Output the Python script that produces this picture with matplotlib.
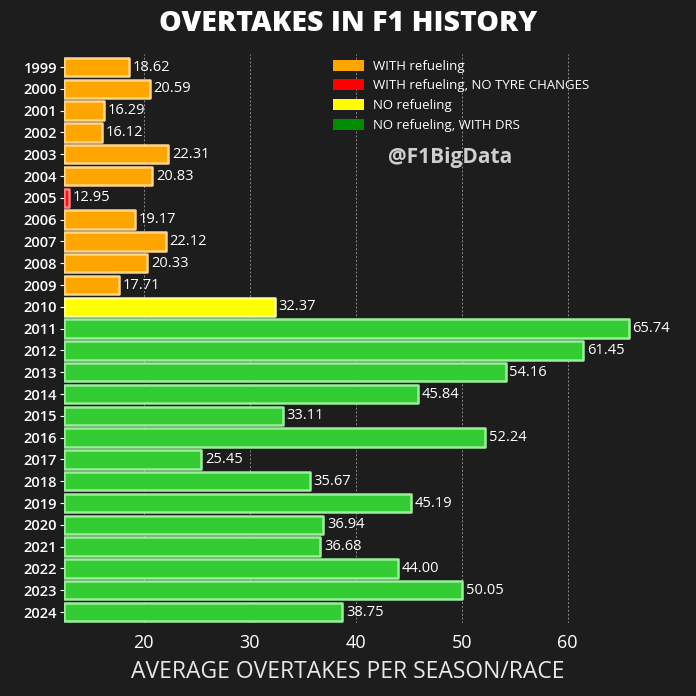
import matplotlib
matplotlib.use("Agg")
import matplotlib.pyplot as plt
from matplotlib.patches import Patch

# data
years = [str(y) for y in range(1999, 2025)]
overtakes = [18.62, 20.59, 16.29, 16.12, 22.31, 20.83, 12.95, 19.17, 22.12, 20.33,
             17.71, 32.37, 65.74, 61.45, 54.16, 45.84, 33.11, 52.24, 25.45, 35.67,
             45.19, 36.94, 36.68, 44.00, 50.05, 38.75]
# era of each season: 0 refuel, 1 refuel no tyre change, 2 no refuel, 3 DRS
era = [0, 0, 0, 0, 0, 0, 1, 0, 0, 0, 0, 2] + [3] * 14
era_labels = ["WITH refueling", "WITH refueling, NO TYRE CHANGES",
              "NO refueling", "NO refueling, WITH DRS"]
era_fill = ["#FFA500", "#FF1010", "#FFFF00", "#33CC33"]
era_edge = ["#FFD58A", "#FF8080", "#FFFF99", "#9BEF9B"]
legend_fill = ["#FFA500", "#FF0000", "#FFFF00", "#008C00"]

bg = "#1d1d1d"
plt.rcParams['font.family'] = ['Open Sans', 'DejaVu Sans']

fig = plt.figure(figsize=(6.96, 6.96), dpi=100, facecolor=bg)
ax = fig.add_axes([0.092, 0.105, 0.908, 0.8175], facecolor=bg)

x0 = 12.5
pos = list(range(len(years)))
for i, v in enumerate(overtakes):
    ax.barh(i, v - x0, left=x0, height=0.84, color=era_fill[era[i]],
            edgecolor=era_edge[era[i]], linewidth=1.8, joinstyle='round', zorder=3)
    ax.text(v + 0.35, i, f"{v:.2f}", color="white", fontsize=10.5,
            va="center", ha="left", zorder=4)

ax.set_ylim(len(years) - 0.5, -0.6)
ax.set_xlim(x0, 72.1)
ax.set_yticks(pos)
ax.set_yticklabels(years, fontsize=10.5, fontweight="semibold", color="white")
ax.set_xticks([20, 30, 40, 50, 60])
ax.tick_params(axis="x", colors="white", labelsize=13, length=0, pad=8)
ax.tick_params(axis="y", colors="white", length=3, pad=2)
ax.grid(axis="x", color="#8a8a8a", linestyle=(0, (2, 2)), linewidth=0.7, zorder=0)
for s in ax.spines.values():
    s.set_visible(False)

fig.text(0.5, 1 - 672 / 696, "AVERAGE OVERTAKES PER SEASON/RACE", color="#e8e8e8",
         fontsize=16.5, ha="center", va="center")

fig.text(0.5, 0.966, "OVERTAKES IN F1 HISTORY", color="white", fontsize=20.5,
         fontweight="heavy", ha="center", va="center")

handles = [Patch(facecolor=legend_fill[k], edgecolor="none") for k in range(4)]
leg = ax.legend(handles, era_labels, loc="upper left", bbox_to_anchor=(0.418, 0.999),
                frameon=False, fontsize=9.5, labelcolor="white", borderaxespad=0,
                handlelength=2.3, handleheight=0.9, labelspacing=0.5,
                handletextpad=0.7)

fig.text(0.647, 0.774, "@F1BigData", color="#cfcfcf", fontsize=15,
         fontweight="bold", ha="center", va="center")

fig.savefig("out.png", dpi=100, facecolor=bg)
